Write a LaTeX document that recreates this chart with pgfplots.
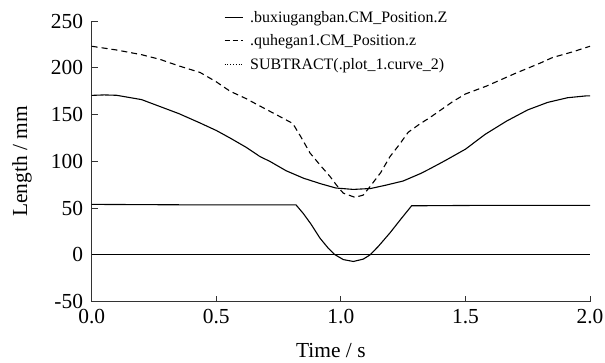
\documentclass[border=0pt]{standalone}
\usepackage{fontspec}
\setmainfont{Liberation Serif}
\usepackage{pgfplots}
\pgfplotsset{compat=1.18}
\begin{document}
\begin{tikzpicture}
\begin{axis}[
  scale only axis,
  width=498.3bp, height=280.7bp,
  xmin=0, xmax=2, ymin=-50, ymax=250,
  axis x line=bottom, axis y line=left,
  axis line style={-, line width=0.9bp, black!80},
  tick align=inside,
  major tick length=6bp,
  tick style={line width=0.9bp, black!80},
  xtick={0,0.5,1,1.5,2},
  xticklabels={0.0,0.5,1.0,1.5,2.0},
  ytick={-50,0,50,100,150,200,250},
  yticklabels={-50,0,50,100,150,200,250},
  ticklabel style={font=\fontsize{21.5}{24}\selectfont},
  xticklabel style={inner sep=0pt, anchor=north, yshift=-7.5bp},
  yticklabel style={inner sep=0pt, anchor=east, xshift=-8.5bp},
  xlabel={Time / s},
  ylabel={Length / mm},
  every axis x label/.style={at={(axis description cs:0.48,-0.197)}, anchor=base, font=\fontsize{21.5}{24}\selectfont},
  every axis y label/.style={at={(axis description cs:-0.1399,0.5)}, rotate=90, anchor=center, font=\fontsize{21.5}{24}\selectfont},
  legend style={at={(axis description cs:0.2655,1.036)}, anchor=north west,
    draw=none, fill=none, inner sep=0pt,
    font=\fontsize{16}{18}\selectfont,
    nodes={inner sep=0pt, anchor=west},
    row sep=11bp},
  legend cell align=left,
  legend image code/.code={\draw[#1] (0bp,0bp) -- (18bp,0bp); \path (25bp,0bp);},
]
\addlegendimage{black, line width=1bp}
\addlegendentry{.buxiugangban.CM\_Position.Z}
\addlegendimage{black, line width=1bp, dash pattern=on 5bp off 3bp}
\addlegendentry{.quhegan1.CM\_Position.z}
\addlegendimage{black, line width=0.8bp, dotted}
\addlegendentry{SUBTRACT(.plot\_1.curve\_2)}

% buxiugangban (solid)
\addplot[black, line width=1.1bp, forget plot] coordinates {
(0.00,170.5) (0.05,171) (0.10,170.6) (0.20,166) (0.27,159) (0.35,151)
(0.435,141) (0.50,133) (0.555,125) (0.62,115) (0.676,105) (0.715,100)
(0.78,90) (0.85,82) (0.92,76) (0.98,71.5) (1.05,70) (1.12,71)
(1.18,74.5) (1.25,79) (1.32,87) (1.357,92) (1.42,101) (1.50,113)
(1.58,129) (1.665,143) (1.75,155) (1.83,163) (1.91,168) (1.986,170) (2.00,170)
};
% quhegan1 (dashed)
\addplot[black, line width=1.1bp, dash pattern=on 6bp off 4bp, forget plot] coordinates {
(0.00,223) (0.10,219) (0.20,214) (0.274,209) (0.35,202) (0.435,195)
(0.50,185) (0.555,175) (0.62,167) (0.676,159) (0.74,150) (0.807,140.5)
(0.84,126) (0.876,109) (0.92,95) (0.956,84) (0.99,72) (1.01,66)
(1.057,61.5) (1.09,64) (1.117,73) (1.16,88) (1.197,105) (1.235,118)
(1.27,131) (1.317,140) (1.357,146.7) (1.45,164) (1.50,172) (1.585,180.5)
(1.70,194) (1.80,205) (1.85,211) (1.93,217) (2.00,223)
};
% SUBTRACT
\addplot[black, line width=1.1bp, forget plot] coordinates {
(0.00,54) (0.40,53.5) (0.82,53.5) (0.85,44) (0.88,33) (0.916,18)
(0.95,7) (0.976,0.3) (1.01,-5) (1.05,-7) (1.09,-4.5) (1.117,0)
(1.15,9) (1.197,23.5) (1.24,38) (1.284,52.5) (1.6,53) (2.0,53)
};
% zero line
\addplot[black, line width=1.1bp, forget plot] coordinates {(0,0) (2,0)};
\end{axis}
\pgfresetboundingbox
\path (-91.7bp,-61.3bp) rectangle (513.3bp,301.7bp);
\end{tikzpicture}
\end{document}
